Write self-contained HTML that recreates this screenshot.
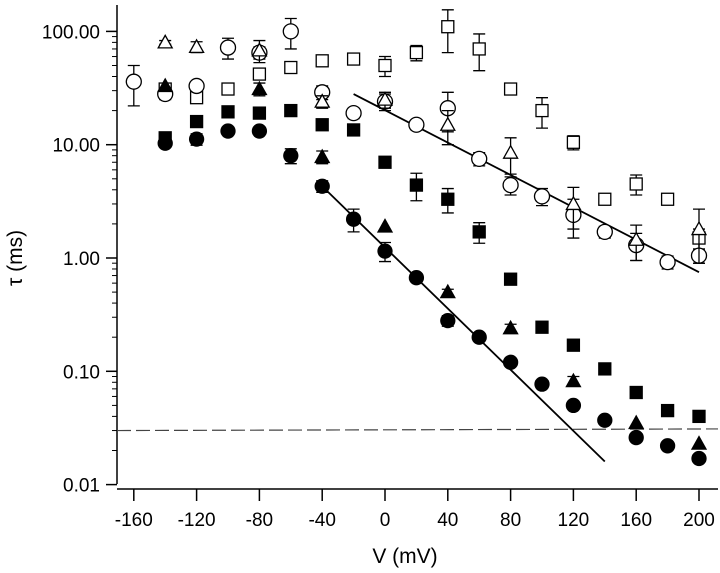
<!DOCTYPE html>
<html><head><meta charset="utf-8">
<style>
html,body{margin:0;padding:0;background:#fff;}
svg{display:block;font-family:"Liberation Sans",sans-serif;}
</style></head>
<body>
<svg id="chart" width="720" height="573" viewBox="0 0 720 573" xmlns="http://www.w3.org/2000/svg">
<g id="axes"></g>
<g id="marks"></g>
<text x="405" y="563" font-size="21" text-anchor="middle">V (mV)</text>
<text transform="translate(22,258) rotate(-90)" font-size="21" text-anchor="middle">τ (ms)</text>
</svg>
<script>
const xTicks=[-160,-120,-80,-40,0,40,80,120,160,200];
const yTicks=[100,10,1,0.1,0.01];
const yTickLabels=["100.00","10.00","1.00","0.10","0.01"];
const vOpenCircle=[-160,-140,-120,-100,-80,-60,-40,-20,0,20,40,60,80,100,120,140,160,180,200];
const tOpenCircle=[36,28,33,72,65,100,29,19,24,15,21,7.5,4.4,3.5,2.4,1.7,1.3,0.92,1.05];
const eOpenCircle=[14,3,3,15,8,30,4,2,4,1.5,8,1,0.8,0.6,0.9,0.2,0.35,0.12,0.15];
const vOpenTri=[-140,-120,-80,-40,0,40,80,120,160,200];
const tOpenTri=[80,73,68,24,25,15,8.5,3,1.45,1.8];
const eOpenTri=[3,8,15,3,4,5,3,1.2,0.5,0.9];
const vOpenSq=[-140,-120,-100,-80,-60,-40,-20,0,20,40,60,80,100,120,140,160,180,200];
const tOpenSq=[31,26,31,42,48,55,57,50,65,110,70,31,20,10.5,3.3,4.5,3.3,1.5];
const eOpenSq=[3,0,0,0,0,0,0,10,10,45,25,0,6,1.5,0.3,0.9,0,0.3];
const vFillSq=[-140,-120,-100,-80,-60,-40,-20,0,20,40,60,80,100,120,140,160,180,200];
const tFillSq=[11.5,16,19.5,19,20,15,13.5,7,4.4,3.3,1.7,0.65,0.245,0.17,0.105,0.065,0.045,0.04];
const eFillSq=[0,0,0,0,0,0,0,0,1.2,0.8,0.35,0,0.025,0,0,0,0,0];
const vFillTri=[-140,-80,-40,0,40,80,120,160,200];
const tFillTri=[33,31,7.8,1.9,0.5,0.24,0.082,0.035,0.023];
const eFillTri=[0,4,1,0,0.03,0.02,0.008,0,0];
const vFillCircle=[-140,-120,-100,-80,-60,-40,-20,0,20,40,60,80,100,120,140,160,180,200];
const tFillCircle=[10.3,11.2,13.2,13.2,8,4.3,2.2,1.15,0.67,0.28,0.2,0.12,0.077,0.05,0.037,0.026,0.022,0.017];
const eFillCircle=[0,1.3,0,0,1.2,0.5,0.5,0.22,0,0.03,0,0,0,0,0,0,0,0];
const fit1V=[-40,140], fit1T=[4.3,0.016];
const fit2V=[-20,200], fit2T=[28,0.75];
const dashLevel=[0.030,0.031];

const NS="http://www.w3.org/2000/svg";
const X=v=>385+v*(62.8/40);
const Y=t=>258-Math.log10(t)*113.3;
const axes=document.getElementById('axes'), marks=document.getElementById('marks');
function el(tag,attrs,parent){const e=document.createElementNS(NS,tag);for(const k in attrs)e.setAttribute(k,attrs[k]);parent.appendChild(e);return e;}

let a=el('line',{x1:117,y1:5,x2:117,y2:484,stroke:'#000','stroke-width':1.5},axes);

a=el('line',{x1:117,y1:489,x2:718,y2:489,stroke:'#000','stroke-width':1.5},axes);

yTicks.forEach((t,i)=>{
  const y=Y(t);
  let l=el('line',{x1:106,y1:y,x2:117,y2:y,stroke:'#000','stroke-width':1.5},axes);
  
  let tx=el('text',{x:100,y:y+7,'font-size':19,'text-anchor':'end'},axes);tx.textContent=yTickLabels[i];
  
  if(i<yTicks.length-1){for(let m=2;m<=9;m++){const ym=Y(yTicks[i+1]*m);
    let mm=el('line',{x1:112,y1:ym,x2:117,y2:ym,stroke:'#000','stroke-width':1},axes);
    }}
});
xTicks.forEach(v=>{
  const x=X(v);
  let l=el('line',{x1:x,y1:489,x2:x,y2:501,stroke:'#000','stroke-width':1.5},axes);
  
  let tx=el('text',{x:x,y:526,'font-size':19,'text-anchor':'middle'},axes);tx.textContent=v;
  
});
let d=el('line',{x1:117,y1:Y(dashLevel[0]),x2:718,y2:Y(dashLevel[1]),stroke:'#444','stroke-width':1.2,'stroke-dasharray':'14,5'},marks);

let f=el('line',{x1:X(fit1V[0]),y1:Y(fit1T[0]),x2:X(fit1V[1]),y2:Y(fit1T[1]),stroke:'#000','stroke-width':1.8},marks);

f=el('line',{x1:X(fit2V[0]),y1:Y(fit2T[0]),x2:X(fit2V[1]),y2:Y(fit2T[1]),stroke:'#000','stroke-width':1.8},marks);


function series(vs,ts,es,shape,filled,name){
  const g=el('g',{},marks);
  
  vs.forEach((v,i)=>{
    const x=X(v),y=Y(ts[i]),e=es[i];
    if(e>0){const y1=Y(ts[i]+e),y2=Y(Math.max(ts[i]-e,ts[i]*0.3));
      const eb=el('path',{d:`M${x},${y1}V${y2}M${x-6},${y1}h12M${x-6},${y2}h12`,stroke:'#000','stroke-width':1.3,fill:'none'},g);
      }
    const st={stroke:'#000','stroke-width':1.3,fill:filled?'#000':'#fff'};
    let m;
    if(shape==='c')m=el('circle',Object.assign({cx:x,cy:y,r:filled?7:7.5},st),g);
    else if(shape==='s')m=el('rect',Object.assign({x:x-6,y:y-6,width:12,height:12},st),g);
    else m=el('path',Object.assign({d:`M${x},${y-7}L${x+7},${y+5.5}L${x-7},${y+5.5}Z`},st),g);
    
  });
}
series(vOpenSq,tOpenSq,eOpenSq,'s',false,'open-square-series');
series(vOpenCircle,tOpenCircle,eOpenCircle,'c',false,'open-circle-series');
series(vOpenTri,tOpenTri,eOpenTri,'t',false,'open-triangle-series');
series(vFillSq,tFillSq,eFillSq,'s',true,'filled-square-series');
series(vFillTri,tFillTri,eFillTri,'t',true,'filled-triangle-series');
series(vFillCircle,tFillCircle,eFillCircle,'c',true,'filled-circle-series');
</script>
</body></html>
